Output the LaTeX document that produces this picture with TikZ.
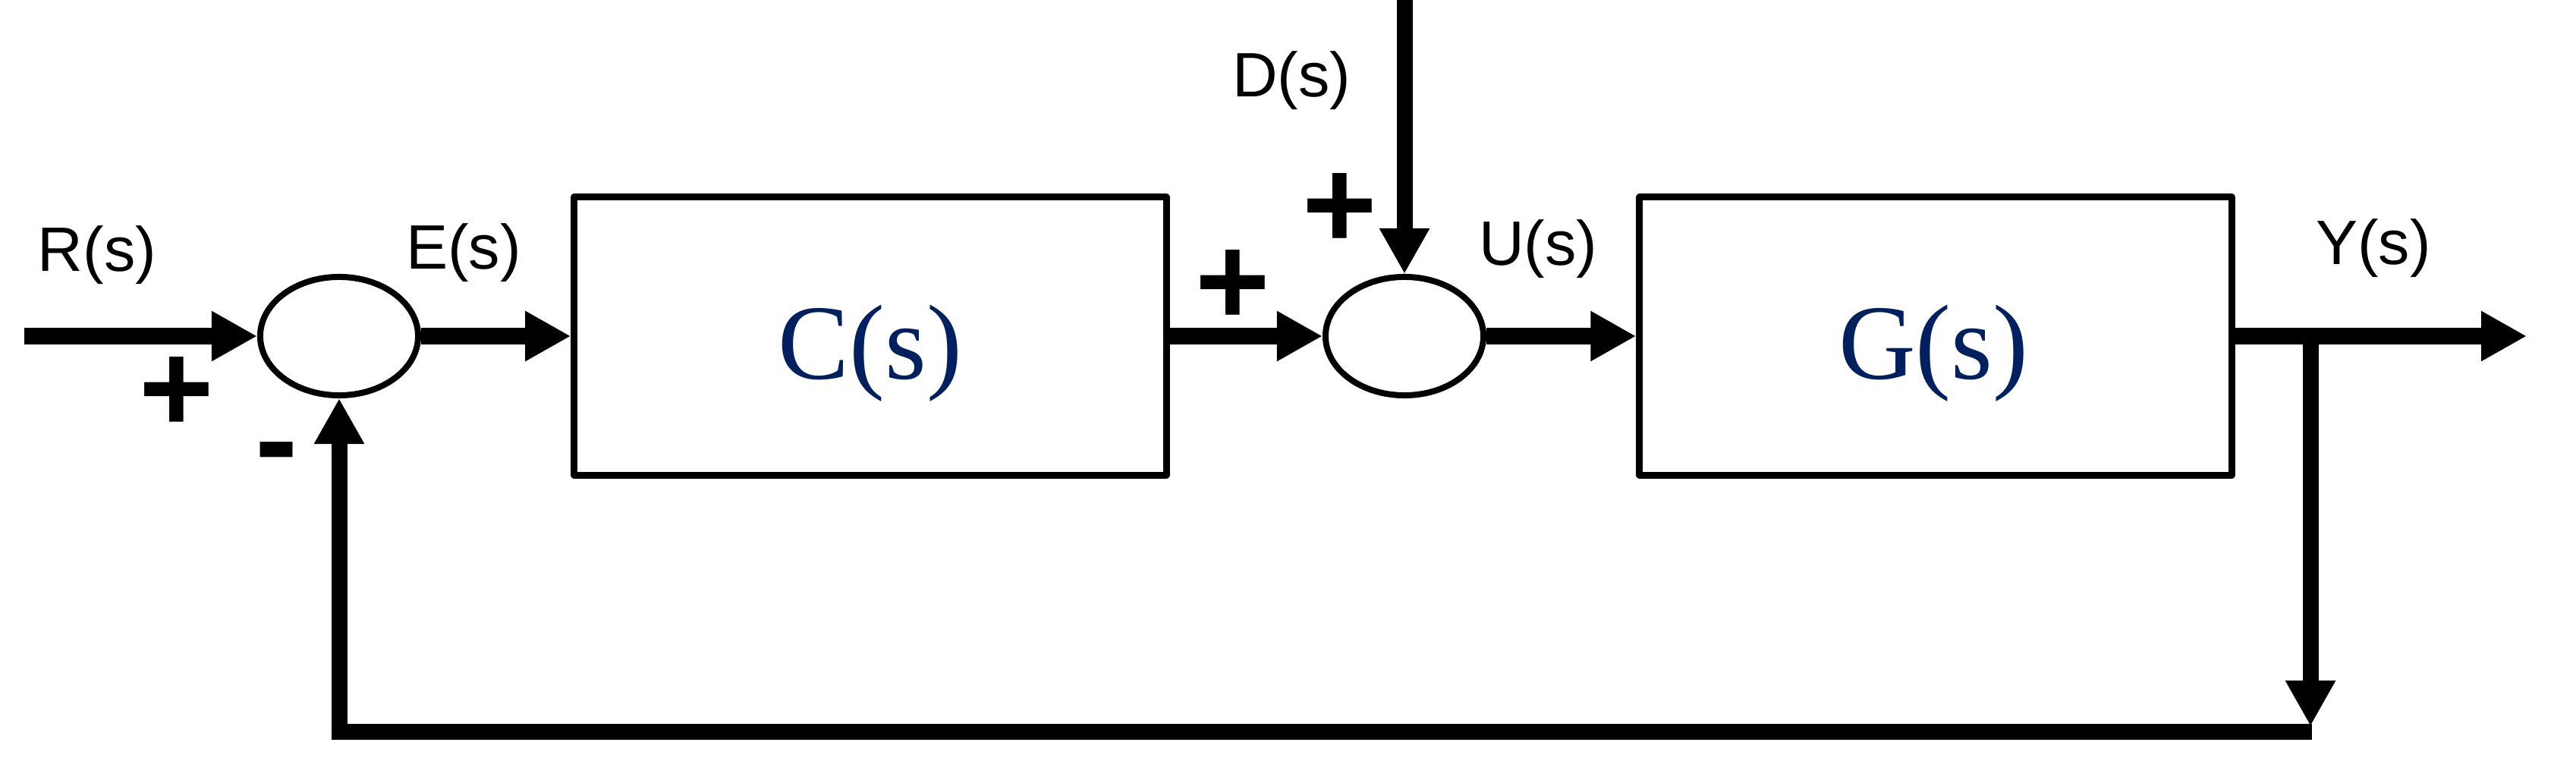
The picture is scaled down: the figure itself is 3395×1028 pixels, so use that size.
\documentclass[tikz,border=0pt]{standalone}
\usepackage{fontspec}
\setmainfont{Liberation Sans}
\newfontfamily\fuentebloque{Liberation Serif}
\usetikzlibrary{
    arrows.meta,
    shapes.geometric
}
\definecolor{azulbloque}{RGB}{0,32,96}
\tikzset{
    >={Triangle[length=6mm, width=6.2mm]},
    bloque/.style={
        draw,
        line width=0.9mm,
        line join=round,
        minimum width=7.8cm,
        minimum height=3.66cm,
        inner sep=0pt
    },
    suma/.style={
        draw,
        ellipse,
        line width=0.8mm,
        minimum width=2.08cm,
        minimum height=1.56cm,
        inner sep=0pt
    },
    senal/.style={line width=2.1mm, ->},
    etiqueta/.style={anchor=base, inner sep=0pt, font=\fontsize{23.5}{28}\selectfont},
    signo/.style={inner sep=0pt, font=\fontsize{48}{56}\selectfont\bfseries},
    funcion/.style={anchor=base, inner sep=0pt, text=azulbloque,
        font=\fuentebloque\fontsize{40}{48}\selectfont}
}

\begin{document}
\begin{tikzpicture}[
    x=0.01cm,
    y=-0.01cm
]
    \useasboundingbox (0,0) rectangle (3395,1028);

    % Bloques y sumadores
    \node[suma]   (s1) at (447,443)  {};
    \node[bloque] (c)  at (1147,443) {};
    \node[suma]   (s2) at (1851,443) {};
    \node[bloque] (g)  at (2551,443) {};

    \node[funcion] (ct) at (1147,500) {C(s)};
    \node[funcion] (gt) at (2548,500) {G(s)};

    % Extremos libres
    \coordinate (r)    at (32,443);
    \coordinate (d)    at (1851,0);
    \coordinate (y)    at (3330,443);
    \coordinate (rama) at (3045,443);
    \coordinate (baja) at (3045,957);
    \coordinate (fin)  at (3047,964);

    % Senales
    \draw[senal] (r) -- (s1.west);
    \draw[senal] (s1.east) -- (c.west);
    \draw[senal] (c.east) -- (s2.west);
    \draw[senal] (d) -- (s2.north);
    \draw[senal] (s2.east) -- (g.west);
    \draw[senal] (g.east) -- (y);

    % Realimentacion
    \draw[senal] (rama) -- (baja);
    \draw[senal] (fin) -| (s1.south);

    % Nombres de las senales
    \node[etiqueta] (lr) at (128,358)  {R(s)};
    \node[etiqueta] (le) at (611,355)  {E(s)};
    \node[etiqueta] (ld) at (1702,128) {D(s)};
    \node[etiqueta] (lu) at (2027,350) {U(s)};
    \node[etiqueta] (ly) at (3128,349) {Y(s)};

    % Signos
    \node[signo] (p1) at (233,520)  {+};
    \node[signo] (p2) at (1625,379) {+};
    \node[signo] (p3) at (1766,278) {+};
    \node[signo] (n1) at (365,610)  {-};

\end{tikzpicture}
\end{document}
